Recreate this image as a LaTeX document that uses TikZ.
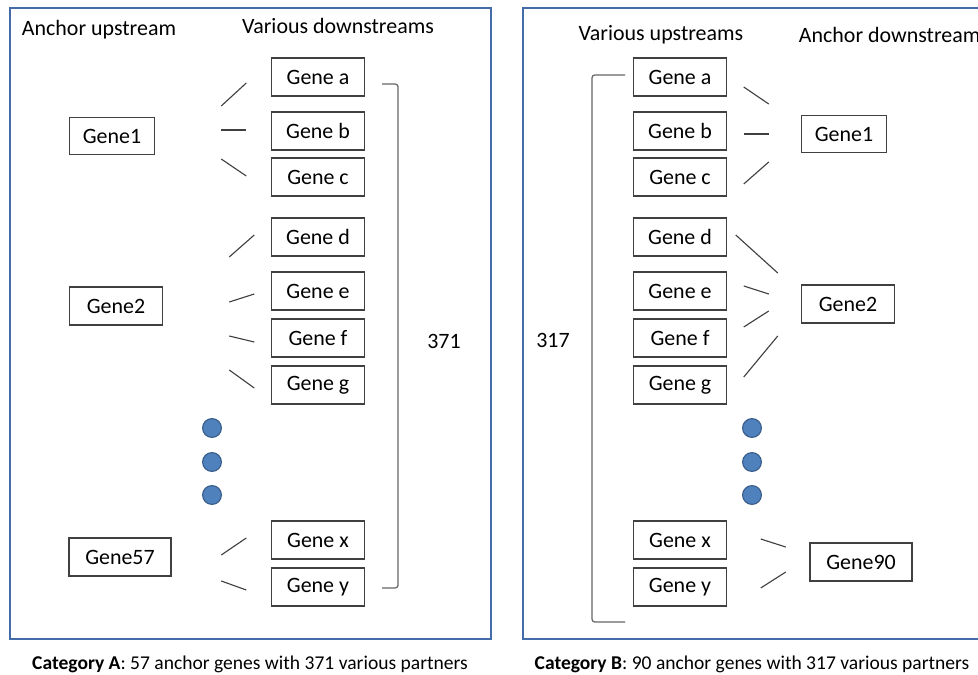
\documentclass[tikz,border=0pt]{standalone}
\usepackage{fontspec}
\setmainfont{Carlito}
\usetikzlibrary{calc}

\definecolor{panelblue}{RGB}{68,108,168}
\definecolor{dotblue}{RGB}{79,129,189}
\definecolor{dotedge}{RGB}{56,93,138}
\newcommand\genefont{\fontsize{15.6}{18}\selectfont}
\newcommand\capfont{\fontsize{13.9}{16}\selectfont}

\begin{document}
\begin{tikzpicture}[x=0.025cm,y=-0.025cm,
    gene/.style={rectangle, draw=black!75, line width=0.9pt, minimum width=2.33cm, minimum height=0.95cm, inner sep=0pt, font=\genefont},
    stub/.style={draw=black!75, line width=0.8pt},
    dot/.style={circle, fill=dotblue, draw=dotedge, line width=0.8pt, minimum size=0.47cm, inner sep=0pt},
    panel/.style={draw=panelblue, line width=1.5pt},
    bracketline/.style={draw=black!60, line width=0.9pt, rounded corners=2pt}]
    \useasboundingbox (0,0) rectangle (978,675);
    \clip (0,0) rectangle (978,675);
    \draw [panel] (10,8) rectangle (491,639);
    \draw [panel] (523,8) rectangle (995,639);
    % column titles
    \node [font=\genefont] (lhead) at (99,30) {Anchor upstream};
    \node [font=\genefont] (lvar) at (338,26) {Various downstreams};
    \node [font=\genefont] (rvar) at (661,35) {Various upstreams};
    \node [font=\genefont, anchor=west] (rhead) at (794,35) {Anchor downstream};
    % partner genes, same rows in both panels
    \foreach \n/\y in {a/77, b/131, c/177, d/237, e/291, f/338, g/385, x/540, y/587} {
      \node [gene] (l\n) at (318, \y) {Gene \n};
      \node [gene] (r\n) at (680, \y) {Gene \n};
    }
    % anchor genes
    \node [gene, minimum width=2.13cm, minimum height=0.93cm] (lg1) at (112,136) {Gene1};
    \node [gene] (lg2) at (116,306) {Gene2};
    \node [gene, minimum width=2.55cm] (lg57) at (120,557) {Gene57};
    \node [gene, minimum width=2.13cm, minimum height=0.93cm] (rg1) at (844,134) {Gene1};
    \node [gene] (rg2) at (848,304) {Gene2};
    \node [gene, minimum width=2.55cm] (rg90) at (861,562) {Gene90};
    % short links in front of each partner box
    \foreach \n/\sx/\sy/\dx/\dy in {a/-49.5/29/25/-23, b/-49.5/-1/25/0, c/-49.5/-18/25/17,
        d/-41.5/20/25/-22, e/-41.5/11/25/-8, f/-41.5/-2/25/6, g/-41.5/-15/25/18,
        x/-49.5/15/25/-17, y/-49.5/-6/25/9} {
      \draw [stub] (l\n.west) ++(\sx,\sy) -- ++(\dx,\dy);
    }
    \foreach \n/\sx/\sy/\dx/\dy in {a/16.5/10/25/17, b/16.5/3/25/0, c/16.5/7/25/-22,
        d/8.5/-2/42/38, e/16.5/-5/25/8, f/16.5/-11/25/-16, g/16.5/-8/34/-41,
        x/33.5/-1/25/8, y/33.5/1/25/-16} {
      \draw [stub] (r\n.east) ++(\sx,\sy) -- ++(\dx,\dy);
    }
    % more anchors
    \foreach \y in {428, 462, 495} {
      \node [dot] (ldot\y) at (212,\y) {};
      \node [dot] (rdot\y) at (752,\y) {};
    }
    % brackets with totals
    \draw [bracketline] (382,84) -- (398,84) -- (398,588) -- (382,588);
    \node [font=\genefont] (ltotal) at (444,341) {371};
    \draw [bracketline] (625,75) -- (592,75) -- (592,622) -- (625,622);
    \node [font=\genefont] (rtotal) at (553,340) {317};
    % captions
    \node [font=\capfont] (capa) at (250,664) {\textbf{Category A}: 57 anchor genes with 371 various partners};
    \node [font=\capfont] (capb) at (752,664) {\textbf{Category B}: 90 anchor genes with 317 various partners};
\end{tikzpicture}
\end{document}
